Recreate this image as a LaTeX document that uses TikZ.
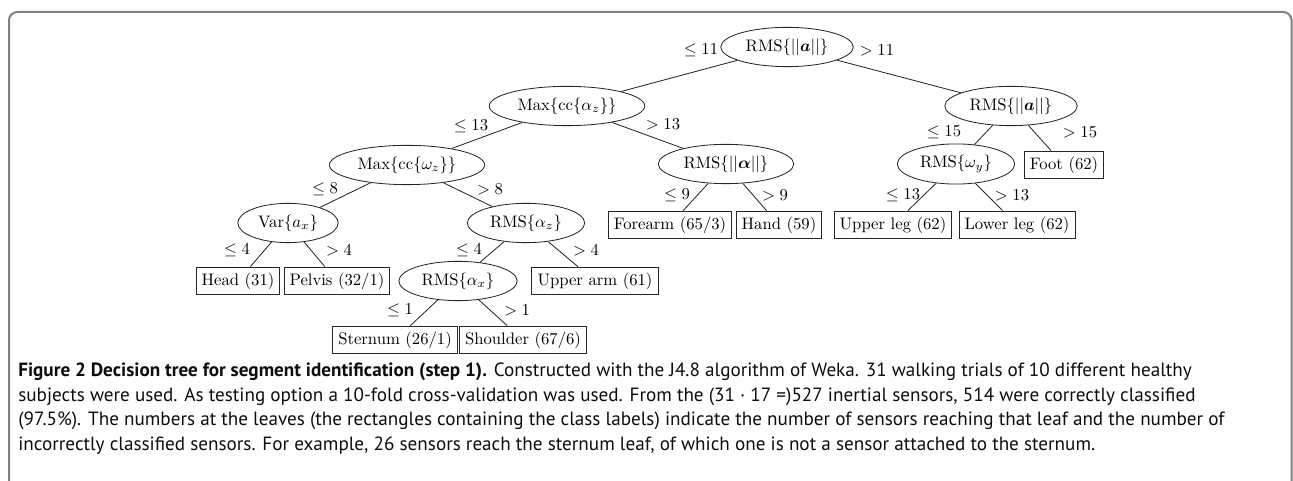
\documentclass[tikz,border=0pt]{standalone}
\usepackage{amsmath,amssymb}
\usepackage{fontspec}
\newfontfamily\capfont{PT Sans}
\usetikzlibrary{shapes.geometric}

\begin{document}
\begin{tikzpicture}[x=0.6pt,y=-0.6pt,
  test/.style={draw=black!85,ellipse,line width=0.5pt},
  leaf/.style={draw=black!85,rectangle,line width=0.6pt},
  wire/.style={black!85,line width=0.5pt},
  cond/.style={inner sep=1pt},
  frame/.style={draw=black!50,line width=1.2pt,rounded corners=5pt},
  capline/.style={anchor=base west,inner sep=0pt,text=black!95,
    font=\capfont\fontsize{11.5}{14}\selectfont}]
\useasboundingbox (0,0) rectangle (1293,481);
\draw[frame] (9,490) -- (9,12) -- (1291.5,12) -- (1291.5,490);
% inner tests
\node[test] (root) at (787,47) {RMS$\{||\boldsymbol{a}||\}$};
\node[test] (maxaz) at (567,106) {Max$\{$cc$\{\alpha_z\}\}$};
\node[test] (rmsnorm) at (1011,106) {RMS$\{||\boldsymbol{a}||\}$};
\node[test] (maxwz) at (407,165) {Max$\{$cc$\{\omega_z\}\}$};
\node[test] (rmsalpha) at (726,164) {RMS$\{||\boldsymbol{\alpha}||\}$};
\node[test] (rmswy) at (956,164) {RMS$\{\omega_y\}$};
\node[test] (varax) at (288,223) {Var$\{a_x\}$};
\node[test] (rmsaz) at (526,223) {RMS$\{\alpha_z\}$};
\node[test] (rmsax) at (458,281) {RMS$\{\alpha_x\}$};
% leaves
\node[leaf] (foot) at (1064,165) {Foot (62)};
\node[leaf] (forearm) at (670,225) {Forearm (65/3)};
\node[leaf] (hand) at (779,225) {Hand (59)};
\node[leaf] (upperleg) at (893,225) {Upper leg (62)};
\node[leaf] (lowerleg) at (1017,225) {Lower leg (62)};
\node[leaf] (head) at (238,281) {Head (31)};
\node[leaf] (pelvis) at (337,281) {Pelvis (32/1)};
\node[leaf] (upperarm) at (595,281) {Upper arm (61)};
\node[leaf] (sternum) at (395,340) {Sternum (26/1)};
\node[leaf] (shoulder) at (523,340) {Shoulder (67/6)};
\foreach \p/\c in {root/maxaz,root/rmsnorm,maxaz/maxwz,maxaz/rmsalpha,
    rmsnorm/rmswy,rmsnorm/foot,maxwz/varax,maxwz/rmsaz,rmsalpha/forearm,
    rmsalpha/hand,rmswy/upperleg,rmswy/lowerleg,varax/head,varax/pelvis,
    rmsaz/rmsax,rmsaz/upperarm,rmsax/sternum,rmsax/shoulder}
  \draw[wire] (\p) -- (\c);
% split values
\foreach \n/\x/\y/\t in {le11/701/50/{$\leq 11$},gt11/877/50/{$>11$},
    le13a/471/126/{$\leq 13$},gt13a/663/124/{$>13$},
    le15/944/132/{$\leq 15$},gt15/1080/132/{$>15$},
    le8/325/189/{$\leq 8$},gt8/490/189/{$>8$},
    le9/677/195/{$\leq 9$},gt9/775/195/{$>9$},
    le13b/903/195/{$\leq 13$},gt13b/1012/195/{$>13$},
    le4a/237/250/{$\leq 4$},gt4a/339/250/{$>4$},
    le4b/469/250/{$\leq 4$},gt4b/586/250/{$>4$},
    le1/400/310/{$\leq 1$},gt1/517/310/{$>1$}}
  \node[cond] (\n) at (\x,\y) {\t};
% caption
\node[capline] (cap1) at (18,377) {{\bfseries Figure 2 Decision tree for segment identification (step 1).} Constructed with the J4.8 algorithm of Weka. 31 walking trials of 10 different healthy};
\node[capline] (cap2) at (18,401.5) {subjects were used. As testing option a 10-fold cross-validation was used. From the (31 · 17 =)527 inertial sensors, 514 were correctly classified};
\node[capline] (cap3) at (18,426) {(97.5\%). The numbers at the leaves (the rectangles containing the class labels) indicate the number of sensors reaching that leaf and the number of};
\node[capline] (cap4) at (18,450.5) {incorrectly classified sensors. For example, 26 sensors reach the sternum leaf, of which one is not a sensor attached to the sternum.};
\end{tikzpicture}
\end{document}
